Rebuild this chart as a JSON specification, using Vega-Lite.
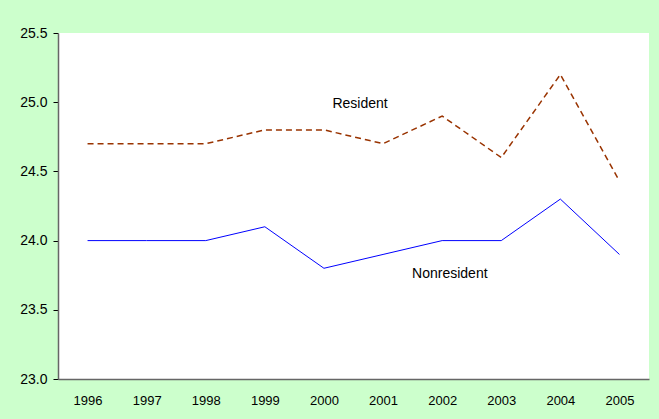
{
  "$schema": "https://vega.github.io/schema/vega-lite/v6.json",
  "width": 591,
  "height": 346,
  "autosize": {"type": "none"},
  "padding": {"left": 58, "top": 33, "right": 10, "bottom": 40},
  "background": "#CCFFCC",
  "config": {
    "view": {"fill": "white", "stroke": null},
    "font": "Liberation Sans"
  },
  "datasets": {
    "series": [
      {"year": 1996, "series": "Resident", "value": 24.7},
      {"year": 1997, "series": "Resident", "value": 24.7},
      {"year": 1998, "series": "Resident", "value": 24.7},
      {"year": 1999, "series": "Resident", "value": 24.8},
      {"year": 2000, "series": "Resident", "value": 24.8},
      {"year": 2001, "series": "Resident", "value": 24.7},
      {"year": 2002, "series": "Resident", "value": 24.9},
      {"year": 2003, "series": "Resident", "value": 24.6},
      {"year": 2004, "series": "Resident", "value": 25.2},
      {"year": 2005, "series": "Resident", "value": 24.43},
      {"year": 1996, "series": "Nonresident", "value": 24.0},
      {"year": 1997, "series": "Nonresident", "value": 24.0},
      {"year": 1998, "series": "Nonresident", "value": 24.0},
      {"year": 1999, "series": "Nonresident", "value": 24.1},
      {"year": 2000, "series": "Nonresident", "value": 23.8},
      {"year": 2001, "series": "Nonresident", "value": 23.9},
      {"year": 2002, "series": "Nonresident", "value": 24.0},
      {"year": 2003, "series": "Nonresident", "value": 24.0},
      {"year": 2004, "series": "Nonresident", "value": 24.3},
      {"year": 2005, "series": "Nonresident", "value": 23.9}
    ],
    "labels": [
      {"x": 2000.61, "y": 24.99, "label": "Resident"},
      {"x": 2002.13, "y": 23.76, "label": "Nonresident"}
    ]
  },
  "layer": [
    {
      "data": {"name": "series"},
      "transform": [{"filter": "datum.series === 'Resident'"}],
      "mark": {"type": "line", "color": "#993300", "strokeWidth": 1.5, "strokeDash": [6, 4]},
      "encoding": {
        "x": {
          "field": "year", "type": "quantitative",
          "scale": {"domain": [1995.5, 2005.5], "nice": false, "zero": false},
          "axis": {
            "title": null, "values": [1996, 1997, 1998, 1999, 2000, 2001, 2002, 2003, 2004, 2005],
            "format": "d", "grid": false, "ticks": false, "labelFontSize": 13, "labelColor": "black",
            "labelPadding": 15, "domainColor": "#666666", "domainWidth": 1.5
          }
        },
        "y": {
          "field": "value", "type": "quantitative",
          "scale": {"domain": [23, 25.5], "nice": false, "zero": false},
          "axis": {
            "title": null, "values": [23, 23.5, 24, 24.5, 25, 25.5], "format": ".1f",
            "grid": false, "tickColor": "black", "tickSize": 5, "labelFontSize": 14,
            "labelColor": "black", "labelPadding": 6, "domainColor": "#666666", "domainWidth": 1.5
          }
        }
      }
    },
    {
      "data": {"name": "series"},
      "transform": [{"filter": "datum.series === 'Nonresident'"}],
      "mark": {"type": "line", "color": "#0000FF", "strokeWidth": 1},
      "encoding": {
        "x": {"field": "year", "type": "quantitative"},
        "y": {"field": "value", "type": "quantitative"}
      }
    },
    {
      "data": {"name": "labels"},
      "mark": {"type": "text", "fontSize": 14, "color": "black", "align": "center", "baseline": "middle"},
      "encoding": {
        "x": {"field": "x", "type": "quantitative"},
        "y": {"field": "y", "type": "quantitative"},
        "text": {"field": "label"}
      }
    }
  ]
}
